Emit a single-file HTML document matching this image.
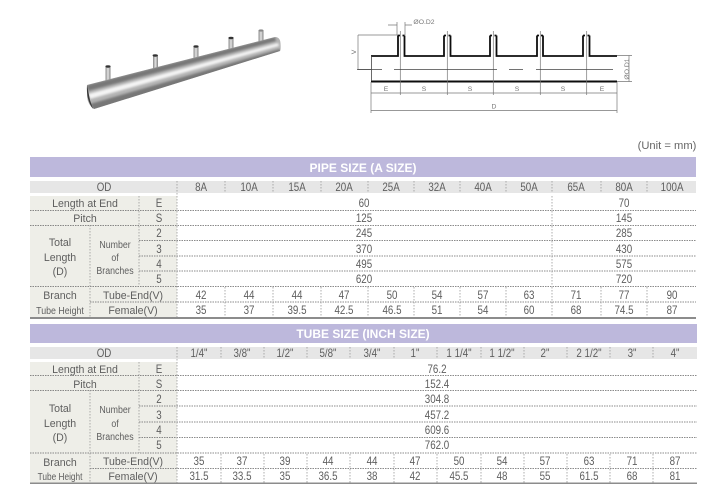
<!DOCTYPE html>
<html><head><meta charset="utf-8">
<style>
html,body{margin:0;padding:0;background:#fff}
svg{display:block}
.t text{font-family:"Liberation Sans",sans-serif;font-size:11.5px;fill:#5e5e5e;text-anchor:middle;transform-box:fill-box;transform-origin:center;transform:scaleX(.85)}
.t text.l{transform:scaleX(.92)}
.t text.s{font-size:10.5px;transform:scaleX(.84)}
.t text.x{font-size:10.5px;transform:scaleX(.79)}
.d{stroke:#666;stroke-width:.8;stroke-dasharray:1.5 1;fill:none}
.v{stroke:#999;stroke-width:.8;stroke-dasharray:1.5 1.5;fill:none}
.h text{font-family:"Liberation Sans",sans-serif;font-size:12px;font-weight:bold;fill:#fff;text-anchor:middle}
.c text{font-family:"Liberation Sans",sans-serif;font-size:6.8px;fill:#777;text-anchor:middle}
</style></head><body>
<svg width="718" height="503" viewBox="0 0 718 503" xmlns="http://www.w3.org/2000/svg">
<defs>
<linearGradient id="b" x1="0" x2="1" y1="0" y2="0"><stop offset="0" stop-color="#888"/><stop offset=".5" stop-color="#e4e4e4"/><stop offset="1" stop-color="#808080"/></linearGradient>
<filter id="bl"><feGaussianBlur stdDeviation="1"/></filter>
<filter id="bs"><feGaussianBlur stdDeviation=".35"/></filter>
<clipPath id="tube"><path d="M87 85 L275 37 Q280 37 280.500 43 Q281 49 280 51 L94 109 Q88 105 87 97 Z"/></clipPath>
</defs>
<!-- pipe -->
<g>
<rect x="105.500" y="66" width="5" height="18" fill="url(#b)"/><ellipse cx="108" cy="66.500" rx="2.600" ry="1.200" fill="#333"/>
<rect x="153" y="55" width="5" height="18" fill="url(#b)"/><ellipse cx="155.200" cy="55.500" rx="2.600" ry="1.200" fill="#333"/>
<rect x="193.500" y="46" width="5" height="17" fill="url(#b)"/><ellipse cx="196" cy="46.500" rx="2.600" ry="1.200" fill="#333"/>
<rect x="228.500" y="38" width="5" height="15" fill="url(#b)"/><ellipse cx="231" cy="38" rx="2.600" ry="1.200" fill="#333"/>
<rect x="258.500" y="30" width="5" height="15" fill="url(#b)"/><ellipse cx="261" cy="30.500" rx="2.400" ry="1.100" fill="#888"/>
<g clip-path="url(#tube)">
<rect x="80" y="30" width="205" height="85" fill="#b4b4b4"/>
<path d="M87 85 L275 37 L276 41 L88 91 Z" fill="#777" filter="url(#bl)"/>
<path d="M88 94 L278 43 L279 46 L90 99 Z" fill="#f4f4f4" filter="url(#bl)"/>
<path d="M90 104 L280 49 L281 53 L94 111 Z" fill="#777" filter="url(#bl)"/>
</g>
<path d="M87 85 Q86 100 93 109 L90 100 Z" fill="#3a3a3a"/>
</g>
<!-- technical drawing -->
<g fill="none" stroke="#111" filter="url(#bs)">
<path stroke-width="1.800" d="M371 56H398V35.500M404.500 35.500V56H444V35.500M450.500 35.500V56H490V35.500M496.500 35.500V56H537V35.500M543 35.500V56H583V35.500M589.500 35.500V56H617"/>
<path stroke-width="1.800" d="M398 35.500H400M402.500 35.500H404.500M444 35.500H446M448.500 35.500H450.500M490 35.500H492M494.500 35.500H496.500M537 35.500H539M541 35.500H543M583 35.500H585M587.500 35.500H589.500"/>
<path stroke-width="2" d="M371 81.500H617"/>
<path stroke-width=".8" stroke="#444" d="M371.500 56V81"/>
</g>
<g fill="none" stroke="#777" stroke-width=".7">
<path d="M400.300 31V95M447.300 31V95M493.300 31V95M540.300 31V95M586.700 31V95"/>
<path d="M371 82V113M617 82V113"/>
<path d="M371 93H617M371 110.500H617"/>
<path d="M388 25H397M405 25H412M397 22V35M405 22V35"/>
<path d="M358 35H398M358 69.500H372M358 35V69.500"/>
<path d="M617 55.500H632M617 81.500H632M629 55.500V81.500"/>
</g>
<path d="M357 69.500H382M394 69.500H497M509 69.500H523M536 69.500H613" stroke="#444" stroke-width=".8" fill="none"/>
<g class="c">
<text x="424" y="24">ØO.D2</text>
<text x="354" y="54" transform="rotate(-90 354 52)">V</text>
<text x="627" y="69" transform="rotate(-90 627 69)" dy="2">ØO.D1</text>
<text x="386" y="91">E</text><text x="424" y="91">S</text><text x="470" y="91">S</text><text x="517" y="91">S</text><text x="563" y="91">S</text><text x="602" y="91">E</text>
<text x="494" y="108.500">D</text>
</g>
<text x="667" y="149" font-family="Liberation Sans,sans-serif" font-size="11.200" fill="#666" text-anchor="middle">(Unit = mm)</text>

<!-- table 1 -->
<rect x="30" y="157" width="666" height="20" fill="#bdb8dc"/>
<rect x="30" y="181" width="666" height="12" fill="#e6e6e6"/>
<rect x="30" y="196" width="147" height="122" fill="#eeeee8"/>
<g class="h"><text x="363" y="172">PIPE SIZE (A SIZE)</text></g>
<g class="d">
<path d="M30 210.500H696M30 225.500H696M139 240.500H696M139 256H696M139 271H696M30 286.500H696M90 302H696"/>
</g>
<g class="v">
<path d="M177 181V318M139 196V286M90 225V318"/>
<path d="M225 181V193M273 181V193M321 181V193M368 181V193M414 181V193M460 181V193M506 181V193M552 181V193M601 181V193M647 181V193"/>
<path d="M552 196V286"/>
<path d="M225 287V318M273 287V318M321 287V318M368 287V318M414 287V318M460 287V318M506 287V318M552 287V318M601 287V318M647 287V318"/>
</g>
<rect x="30" y="317" width="666" height="2" fill="#8c8c8c"/>
<g class="t">
<text x="104" y="191">OD</text>
<text x="201" y="191">8A</text><text x="249" y="191">10A</text><text x="297" y="191">15A</text><text x="344" y="191">20A</text><text x="391" y="191">25A</text><text x="437" y="191">32A</text><text x="483" y="191">40A</text><text x="529" y="191">50A</text><text x="576" y="191">65A</text><text x="624" y="191">80A</text><text x="672" y="191">100A</text>
<text class="l" x="85" y="207">Length at End</text><text x="159" y="207">E</text>
<text class="l" x="85" y="222">Pitch</text><text x="159" y="222">S</text>
<text x="159" y="237">2</text><text x="159" y="253">3</text><text x="159" y="268">4</text><text x="159" y="283">5</text>
<text class="l" x="60" y="246">Total</text><text class="l" x="60" y="261">Length</text><text class="l" x="60" y="275">(D)</text>
<text class="s" x="115" y="248">Number</text><text class="s" x="115" y="261">of</text><text class="s" x="115" y="274">Branches</text>
<text class="l" x="60" y="299">Branch</text><text class="s" x="60" y="314">Tube Height</text>
<text x="364" y="207">60</text><text x="364" y="222">125</text><text x="364" y="237">245</text><text x="364" y="253">370</text><text x="364" y="268">495</text><text x="364" y="283">620</text>
<text x="624" y="207">70</text><text x="624" y="222">145</text><text x="624" y="237">285</text><text x="624" y="253">430</text><text x="624" y="268">575</text><text x="624" y="283">720</text>
<text class="l" x="133" y="299">Tube-End(V)</text><text class="l" x="133" y="314">Female(V)</text>
<text x="201" y="299">42</text><text x="249" y="299">44</text><text x="297" y="299">44</text><text x="344" y="299">47</text><text x="392" y="299">50</text><text x="437" y="299">54</text><text x="483" y="299">57</text><text x="529" y="299">63</text><text x="576" y="299">71</text><text x="624" y="299">77</text><text x="672" y="299">90</text>
<text x="201" y="314">35</text><text x="249" y="314">37</text><text x="297" y="314">39.5</text><text x="344" y="314">42.5</text><text x="392" y="314">46.5</text><text x="437" y="314">51</text><text x="483" y="314">54</text><text x="529" y="314">60</text><text x="576" y="314">68</text><text x="624" y="314">74.5</text><text x="672" y="314">87</text>
</g>

<!-- table 2 -->
<rect x="30" y="324" width="667" height="19" fill="#bdb8dc"/>
<rect x="30" y="347" width="667" height="12" fill="#e6e6e6"/>
<rect x="30" y="362" width="147" height="121" fill="#eeeee8"/>
<g class="h"><text x="363" y="338">TUBE SIZE (INCH SIZE)</text></g>
<g class="d">
<path d="M30 375.500H697M30 390.500H697M139 406H697M139 422H697M139 437.500H697M30 453H697M90 468.500H697"/>
</g>
<g class="v">
<path d="M177 347V483M139 362V453M90 390V483"/>
<path d="M221 347V359M264 347V359M307 347V359M350 347V359M394 347V359M437 347V359M481 347V359M524 347V359M567 347V359M610 347V359M653 347V359"/>
<path d="M221 454V483M264 454V483M307 454V483M350 454V483M394 454V483M437 454V483M481 454V483M524 454V483M567 454V483M610 454V483M653 454V483"/>
</g>
<rect x="30" y="482.500" width="667" height="1.500" fill="#8c8c8c"/>
<g class="t">
<text x="104" y="357">OD</text>
<text x="199" y="357">1/4"</text><text x="242" y="357">3/8"</text><text x="285" y="357">1/2"</text><text x="328" y="357">5/8"</text><text x="372" y="357">3/4"</text><text x="415" y="357">1"</text><text x="459" y="357">1 1/4"</text><text x="502" y="357">1 1/2"</text><text x="545" y="357">2"</text><text x="589" y="357">2 1/2"</text><text x="632" y="357">3"</text><text x="675" y="357">4"</text>
<text class="l" x="85" y="373">Length at End</text><text x="159" y="373">E</text>
<text class="l" x="85" y="388">Pitch</text><text x="159" y="388">S</text>
<text x="159" y="403">2</text><text x="159" y="419">3</text><text x="159" y="434">4</text><text x="159" y="449">5</text>
<text class="l" x="60" y="412">Total</text><text class="l" x="60" y="427">Length</text><text class="l" x="60" y="441">(D)</text>
<text class="s" x="115" y="413">Number</text><text class="s" x="115" y="427">of</text><text class="s" x="115" y="440">Branches</text>
<text class="l" x="60" y="466">Branch</text><text class="x" x="60" y="480">Tube Height</text>
<text x="437" y="373">76.2</text><text x="437" y="388">152.4</text><text x="437" y="403">304.8</text><text x="437" y="419">457.2</text><text x="437" y="434">609.6</text><text x="437" y="449">762.0</text>
<text class="l" x="133" y="465">Tube-End(V)</text><text class="l" x="133" y="480">Female(V)</text>
<text x="199" y="465">35</text><text x="242" y="465">37</text><text x="285" y="465">39</text><text x="328" y="465">44</text><text x="372" y="465">44</text><text x="415" y="465">47</text><text x="459" y="465">50</text><text x="502" y="465">54</text><text x="545" y="465">57</text><text x="589" y="465">63</text><text x="632" y="465">71</text><text x="675" y="465">87</text>
<text x="199" y="480">31.5</text><text x="242" y="480">33.5</text><text x="285" y="480">35</text><text x="328" y="480">36.5</text><text x="372" y="480">38</text><text x="415" y="480">42</text><text x="459" y="480">45.5</text><text x="502" y="480">48</text><text x="545" y="480">55</text><text x="589" y="480">61.5</text><text x="632" y="480">68</text><text x="675" y="480">81</text>
</g>
</svg>
</body></html>
